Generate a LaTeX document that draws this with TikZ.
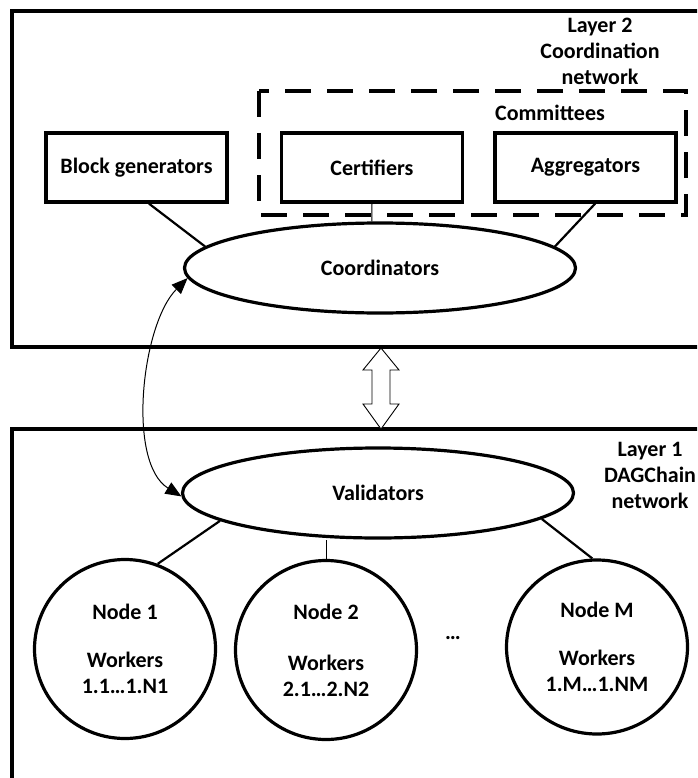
\documentclass[tikz,border=0pt]{standalone}
\usepackage{fontspec}
\setmainfont{Carlito}
\usetikzlibrary{shapes.geometric,arrows.meta}

\tikzset{
  layerframe/.style={line width=3.2pt},
  committee/.style={line width=3.2pt, dash pattern=on 26pt off 16pt},
  unitbox/.style={draw, line width=3.2pt, minimum width=181pt, minimum height=69pt, inner sep=0pt},
  hub/.style={ellipse, draw, line width=3.2pt, minimum width=391pt, minimum height=90pt, inner sep=0pt},
  peer/.style={ellipse, draw, line width=3.2pt, minimum width=181pt, minimum height=179pt, inner sep=0pt, align=center},
  link/.style={line width=2.2pt},
  thinlink/.style={line width=1pt},
  bridge/.style={line width=0.9pt, fill=white, line join=miter}
}

\begin{document}
\begin{tikzpicture}[x=1pt,y=-1pt,font=\bfseries\fontsize{22}{26}\selectfont]
  \useasboundingbox (0,0) rectangle (697,778);
  \clip (0,0) rectangle (697,778);

  % Layer 2
  \draw[layerframe] (12,11) rectangle (730,347);
  \node[align=center] (l2label) at (600,51) {Layer 2\\Coordination\\network};
  \draw[committee] (259,91) rectangle (686,215);
  \node (commlabel) at (550,113) {Committees};

  \node[unitbox] (blockgen) at (136.5,167.5) {Block generators};
  \node[unitbox] (certif) at (372,167.5) {Certifiers};
  \node[unitbox] (aggreg) at (585.5,167.5) {Aggregators};
  \node[hub] (coord) at (380,268) {Coordinators};

  \draw[link] (blockgen.289) -- (coord.173);
  \draw[thinlink] (certif.south) -- (coord.100);
  \draw[link] (aggreg.285) -- (coord.7);

  % Layer 1
  \draw[layerframe] (12,429) rectangle (730,800);
  \node[align=center] (l1label) at (650,475) {Layer 1\\DAGChain\\network};
  \node[hub] (valid) at (378,493) {Validators};

  \node[peer] (node1) at (125,649) {Node 1\\[22pt]Workers\\1.1…1.N1};
  \node[peer] (node2) at (326,650) {Node 2\\[25pt]Workers\\2.1…2.N2};
  \node[peer, minimum height=174pt] (nodeM) at (597,647) {Node M\\[22pt]Workers\\1.M…1.NM};
  \node (dots) at (453,638) {…};

  \draw[link] (valid.190) -- (node1.69);
  \draw[thinlink] (node2.north) -- (node2.north |- valid.south);
  \draw[link] (valid.351) -- (nodeM.93);

  % Between layers
  \coordinate (l2bottom) at (381,348);
  \coordinate (l1top) at (381,429);
  \draw[bridge] (l2bottom) -- ++(18,22) -- ++(-9,0) -- ++(0,34) -- ++(9,0) -- (l1top)
    -- ++(-18,-25) -- ++(9,0) -- ++(0,-34) -- ++(-9,0) -- cycle;

  \draw[thinlink, {Triangle[length=16pt,width=13pt]}-{Triangle[length=16pt,width=13pt]}]
    (coord.183) .. controls +(-46,46) and +(-55,-34) .. (valid.181);

\end{tikzpicture}
\end{document}
